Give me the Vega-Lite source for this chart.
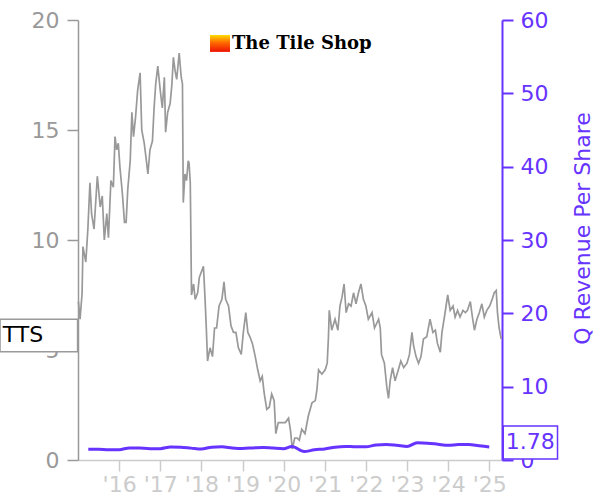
{
  "$schema": "https://vega.github.io/schema/vega-lite/v6.json",
  "width": 424,
  "height": 440,
  "autosize": "none",
  "padding": {"left": 78, "top": 20, "right": 98, "bottom": 40},
  "background": "white",
  "config": {"font": "DejaVu Sans", "view": {"stroke": null}},
  "datasets": {
    "price": [
      {"t": 2015.01, "v": 7.2}, {"t": 2015.05, "v": 6.4}, {"t": 2015.10, "v": 7.6}, {"t": 2015.12, "v": 9.7},
      {"t": 2015.19, "v": 9.0}, {"t": 2015.24, "v": 10.5}, {"t": 2015.29, "v": 12.6}, {"t": 2015.33, "v": 11.2},
      {"t": 2015.39, "v": 10.5}, {"t": 2015.47, "v": 12.9}, {"t": 2015.54, "v": 11.5}, {"t": 2015.59, "v": 12.0},
      {"t": 2015.64, "v": 10.0}, {"t": 2015.70, "v": 11.2}, {"t": 2015.74, "v": 10.1}, {"t": 2015.80, "v": 12.7},
      {"t": 2015.86, "v": 12.4}, {"t": 2015.90, "v": 14.7}, {"t": 2015.94, "v": 14.1}, {"t": 2015.98, "v": 14.4},
      {"t": 2016.02, "v": 13.3}, {"t": 2016.08, "v": 12.1}, {"t": 2016.13, "v": 10.8}, {"t": 2016.17, "v": 10.8},
      {"t": 2016.21, "v": 12.3}, {"t": 2016.27, "v": 13.6}, {"t": 2016.31, "v": 15.8}, {"t": 2016.35, "v": 14.7},
      {"t": 2016.40, "v": 15.6}, {"t": 2016.45, "v": 16.8}, {"t": 2016.51, "v": 17.6}, {"t": 2016.55, "v": 15.0},
      {"t": 2016.61, "v": 14.4}, {"t": 2016.65, "v": 13.8}, {"t": 2016.70, "v": 13.0}, {"t": 2016.75, "v": 14.1},
      {"t": 2016.81, "v": 14.5}, {"t": 2016.85, "v": 16.0}, {"t": 2016.89, "v": 17.1}, {"t": 2016.94, "v": 17.9},
      {"t": 2017.00, "v": 16.8}, {"t": 2017.05, "v": 16.0}, {"t": 2017.10, "v": 17.4}, {"t": 2017.13, "v": 14.9},
      {"t": 2017.18, "v": 15.8}, {"t": 2017.24, "v": 16.2}, {"t": 2017.28, "v": 17.0}, {"t": 2017.32, "v": 18.3},
      {"t": 2017.36, "v": 17.7}, {"t": 2017.40, "v": 17.3}, {"t": 2017.46, "v": 18.5}, {"t": 2017.51, "v": 17.4},
      {"t": 2017.54, "v": 17.1}, {"t": 2017.56, "v": 11.7}, {"t": 2017.60, "v": 13.0}, {"t": 2017.64, "v": 12.7},
      {"t": 2017.68, "v": 13.6}, {"t": 2017.70, "v": 13.5}, {"t": 2017.73, "v": 12.6}, {"t": 2017.74, "v": 11.0},
      {"t": 2017.76, "v": 7.5}, {"t": 2017.81, "v": 8.0}, {"t": 2017.85, "v": 7.3}, {"t": 2017.91, "v": 7.6},
      {"t": 2017.95, "v": 8.3}, {"t": 2017.99, "v": 8.5}, {"t": 2018.05, "v": 8.8}, {"t": 2018.09, "v": 7.3},
      {"t": 2018.12, "v": 6.0}, {"t": 2018.15, "v": 4.5}, {"t": 2018.21, "v": 5.1}, {"t": 2018.27, "v": 4.7},
      {"t": 2018.32, "v": 6.0}, {"t": 2018.37, "v": 6.0}, {"t": 2018.43, "v": 7.0}, {"t": 2018.50, "v": 7.3},
      {"t": 2018.55, "v": 8.1}, {"t": 2018.59, "v": 7.3}, {"t": 2018.66, "v": 7.0}, {"t": 2018.72, "v": 6.1},
      {"t": 2018.78, "v": 5.8}, {"t": 2018.84, "v": 5.8}, {"t": 2018.90, "v": 5.1}, {"t": 2018.97, "v": 4.8},
      {"t": 2019.02, "v": 5.8}, {"t": 2019.08, "v": 6.7}, {"t": 2019.13, "v": 5.8}, {"t": 2019.18, "v": 5.6},
      {"t": 2019.24, "v": 5.3}, {"t": 2019.31, "v": 4.7}, {"t": 2019.37, "v": 4.1}, {"t": 2019.43, "v": 3.6},
      {"t": 2019.48, "v": 3.8}, {"t": 2019.53, "v": 3.0}, {"t": 2019.59, "v": 2.3}, {"t": 2019.65, "v": 2.4},
      {"t": 2019.71, "v": 3.0}, {"t": 2019.77, "v": 2.7}, {"t": 2019.81, "v": 1.2}, {"t": 2019.87, "v": 1.7},
      {"t": 2019.96, "v": 1.7}, {"t": 2020.04, "v": 1.7}, {"t": 2020.12, "v": 1.9}, {"t": 2020.17, "v": 1.3},
      {"t": 2020.21, "v": 0.5}, {"t": 2020.27, "v": 1.0}, {"t": 2020.33, "v": 1.0}, {"t": 2020.38, "v": 0.9},
      {"t": 2020.44, "v": 1.4}, {"t": 2020.52, "v": 1.2}, {"t": 2020.60, "v": 2.0}, {"t": 2020.69, "v": 2.6},
      {"t": 2020.77, "v": 2.7}, {"t": 2020.81, "v": 3.2}, {"t": 2020.85, "v": 4.1}, {"t": 2020.93, "v": 3.9},
      {"t": 2021.01, "v": 4.1}, {"t": 2021.06, "v": 4.4}, {"t": 2021.09, "v": 5.6}, {"t": 2021.11, "v": 6.8},
      {"t": 2021.17, "v": 5.9}, {"t": 2021.25, "v": 6.4}, {"t": 2021.32, "v": 5.9}, {"t": 2021.37, "v": 7.0},
      {"t": 2021.42, "v": 7.4}, {"t": 2021.47, "v": 8.0}, {"t": 2021.52, "v": 6.7}, {"t": 2021.58, "v": 7.1},
      {"t": 2021.64, "v": 7.0}, {"t": 2021.70, "v": 7.6}, {"t": 2021.76, "v": 7.1}, {"t": 2021.82, "v": 7.6},
      {"t": 2021.88, "v": 8.0}, {"t": 2021.94, "v": 7.3}, {"t": 2022.00, "v": 7.0}, {"t": 2022.06, "v": 6.4},
      {"t": 2022.15, "v": 6.7}, {"t": 2022.21, "v": 6.0}, {"t": 2022.31, "v": 6.4}, {"t": 2022.35, "v": 6.0},
      {"t": 2022.38, "v": 4.8}, {"t": 2022.45, "v": 4.4}, {"t": 2022.51, "v": 3.3}, {"t": 2022.55, "v": 2.8},
      {"t": 2022.59, "v": 3.6}, {"t": 2022.65, "v": 4.2}, {"t": 2022.71, "v": 3.6}, {"t": 2022.79, "v": 4.1},
      {"t": 2022.85, "v": 4.5}, {"t": 2022.92, "v": 4.2}, {"t": 2023.00, "v": 4.4}, {"t": 2023.06, "v": 4.8},
      {"t": 2023.12, "v": 5.8}, {"t": 2023.16, "v": 5.2}, {"t": 2023.22, "v": 4.7}, {"t": 2023.28, "v": 4.4},
      {"t": 2023.34, "v": 4.7}, {"t": 2023.40, "v": 5.5}, {"t": 2023.48, "v": 5.6}, {"t": 2023.56, "v": 6.4},
      {"t": 2023.63, "v": 5.8}, {"t": 2023.69, "v": 5.9}, {"t": 2023.74, "v": 5.3}, {"t": 2023.81, "v": 4.9},
      {"t": 2023.85, "v": 5.8}, {"t": 2023.91, "v": 6.5}, {"t": 2023.95, "v": 7.0}, {"t": 2023.99, "v": 7.5},
      {"t": 2024.05, "v": 6.8}, {"t": 2024.12, "v": 7.0}, {"t": 2024.17, "v": 6.5}, {"t": 2024.23, "v": 6.8},
      {"t": 2024.29, "v": 6.5}, {"t": 2024.36, "v": 6.8}, {"t": 2024.42, "v": 6.7}, {"t": 2024.47, "v": 6.8},
      {"t": 2024.54, "v": 7.2}, {"t": 2024.59, "v": 6.5}, {"t": 2024.64, "v": 5.9}, {"t": 2024.70, "v": 6.4},
      {"t": 2024.76, "v": 6.7}, {"t": 2024.82, "v": 7.1}, {"t": 2024.88, "v": 6.5}, {"t": 2024.94, "v": 6.8},
      {"t": 2025.01, "v": 7.0}, {"t": 2025.07, "v": 7.3}, {"t": 2025.12, "v": 7.6}, {"t": 2025.17, "v": 7.7},
      {"t": 2025.20, "v": 6.7}, {"t": 2025.24, "v": 6.0}, {"t": 2025.29, "v": 5.5}
    ],
    "rev": [
      {"t": 2015.25, "v": 1.46}, {"t": 2015.5, "v": 1.45}, {"t": 2015.75, "v": 1.40}, {"t": 2016.0, "v": 1.40},
      {"t": 2016.25, "v": 1.65}, {"t": 2016.5, "v": 1.62}, {"t": 2016.75, "v": 1.55}, {"t": 2017.0, "v": 1.55},
      {"t": 2017.25, "v": 1.78}, {"t": 2017.5, "v": 1.75}, {"t": 2017.75, "v": 1.62}, {"t": 2018.0, "v": 1.50},
      {"t": 2018.25, "v": 1.75}, {"t": 2018.5, "v": 1.80}, {"t": 2018.75, "v": 1.65}, {"t": 2019.0, "v": 1.58},
      {"t": 2019.25, "v": 1.65}, {"t": 2019.5, "v": 1.72}, {"t": 2019.75, "v": 1.62}, {"t": 2020.0, "v": 1.55},
      {"t": 2020.2, "v": 1.85}, {"t": 2020.5, "v": 1.15}, {"t": 2020.75, "v": 1.40}, {"t": 2021.0, "v": 1.50},
      {"t": 2021.25, "v": 1.75}, {"t": 2021.5, "v": 1.85}, {"t": 2021.75, "v": 1.80}, {"t": 2022.0, "v": 1.80},
      {"t": 2022.25, "v": 2.05}, {"t": 2022.5, "v": 2.10}, {"t": 2022.75, "v": 2.00}, {"t": 2023.0, "v": 1.85},
      {"t": 2023.25, "v": 2.35}, {"t": 2023.5, "v": 2.30}, {"t": 2023.75, "v": 2.15}, {"t": 2024.0, "v": 2.00},
      {"t": 2024.25, "v": 2.10}, {"t": 2024.5, "v": 2.12}, {"t": 2024.75, "v": 1.95}, {"t": 2025.0, "v": 1.78}
    ]
  },
  "layer": [
    {
      "data": {"name": "price"},
      "mark": {"type": "line", "color": "#999999", "strokeWidth": 1.7},
      "encoding": {
        "x": {
          "field": "t", "type": "quantitative",
          "scale": {"domain": [2015, 2025.31], "nice": false, "zero": false},
          "axis": {
            "title": null, "grid": false,
            "values": [2016, 2017, 2018, 2019, 2020, 2021, 2022, 2023, 2024, 2025],
            "labelExpr": "\"'\" + slice(toString(datum.value), 2)",
            "labelColor": "#cccccc", "labelFontSize": 22, "labelPadding": 3,
            "domainColor": "#cccccc", "domainWidth": 1.5,
            "tickColor": "#cccccc", "tickSize": 11, "tickWidth": 1.5,
            "labelFlush": false, "labelOverlap": false, "labelSeparation": 0
          }
        },
        "y": {
          "field": "v", "type": "quantitative",
          "scale": {"domain": [0, 20], "nice": false, "zero": true},
          "axis": {
            "title": null, "grid": false, "values": [0, 5, 10, 15, 20],
            "labelColor": "#999999", "labelFontSize": 22, "labelPadding": 8,
            "domainColor": "#999999", "domainWidth": 1.5,
            "tickColor": "#999999", "tickSize": 11, "tickWidth": 1.5
          }
        }
      }
    },
    {
      "data": {"name": "rev"},
      "mark": {"type": "line", "color": "#6633ff", "strokeWidth": 3, "interpolate": "monotone"},
      "encoding": {
        "x": {"field": "t", "type": "quantitative", "scale": {"domain": [2015, 2025.31], "nice": false, "zero": false}},
        "y": {
          "field": "v", "type": "quantitative",
          "scale": {"domain": [0, 60], "nice": false, "zero": true},
          "axis": {
            "orient": "right", "grid": false, "values": [0, 10, 20, 30, 40, 50, 60],
            "title": "Q Revenue Per Share", "titleColor": "#6633ff", "titleFontSize": 22,
            "titleFontWeight": "normal", "titleAngle": 270, "titleX": 80, "titleY": 208,
            "titleAlign": "center", "titleBaseline": "middle",
            "labelColor": "#6633ff", "labelFontSize": 22, "labelPadding": 7,
            "domainColor": "#6633ff", "domainWidth": 2,
            "tickColor": "#6633ff", "tickSize": 11, "tickWidth": 2
          }
        }
      }
    },
    {
      "data": {"values": [{"name": "TTS"}]},
      "mark": {"type": "rect", "fill": "white", "stroke": "#999999", "strokeWidth": 1.5},
      "encoding": {
        "x": {"datum": 2013.104, "type": "quantitative", "scale": {"domain": [2015, 2025.31], "nice": false, "zero": false}},
        "x2": {"datum": 2014.99},
        "y": {"datum": 6.395, "type": "quantitative", "scale": {"domain": [0, 20], "nice": false}, "axis": null},
        "y2": {"datum": 4.92}
      }
    },
    {
      "data": {"values": [{"name": "TTS"}]},
      "mark": {"type": "text", "align": "left", "baseline": "middle", "fontSize": 22, "color": "black"},
      "encoding": {
        "text": {"field": "name"},
        "x": {"datum": 2013.17, "type": "quantitative", "scale": {"domain": [2015, 2025.31], "nice": false, "zero": false}},
        "y": {"datum": 5.66, "type": "quantitative", "scale": {"domain": [0, 20], "nice": false}, "axis": null}
      }
    },
    {
      "data": {"values": [{"last": "1.78"}]},
      "mark": {"type": "rect", "fill": "white", "stroke": "#6633ff", "strokeWidth": 1.5},
      "encoding": {
        "x": {"datum": 2025.34, "type": "quantitative", "scale": {"domain": [2015, 2025.31], "nice": false, "zero": false}},
        "x2": {"datum": 2026.66},
        "y": {"datum": 4.64, "type": "quantitative", "scale": {"domain": [0, 60], "nice": false}, "axis": null},
        "y2": {"datum": 0.136}
      }
    },
    {
      "data": {"values": [{"last": "1.78"}]},
      "mark": {"type": "text", "align": "left", "baseline": "middle", "fontSize": 22, "color": "#6633ff"},
      "encoding": {
        "text": {"field": "last"},
        "x": {"datum": 2025.40, "type": "quantitative", "scale": {"domain": [2015, 2025.31], "nice": false, "zero": false}},
        "y": {"datum": 2.39, "type": "quantitative", "scale": {"domain": [0, 60], "nice": false}, "axis": null}
      }
    },
    {
      "data": {"values": [{"brand": "The Tile Shop"}]},
      "mark": {
        "type": "rect",
        "fill": {"gradient": "linear", "x1": 0, "y1": 0, "x2": 0, "y2": 1,
          "stops": [{"offset": 0, "color": "#ffdd00"}, {"offset": 0.45, "color": "#ff6a00"}, {"offset": 1, "color": "#ee1100"}]}
      },
      "encoding": {
        "x": {"datum": 2018.209, "type": "quantitative", "scale": {"domain": [2015, 2025.31], "nice": false, "zero": false}},
        "x2": {"datum": 2018.696},
        "y": {"datum": 19.32, "type": "quantitative", "scale": {"domain": [0, 20], "nice": false}, "axis": null},
        "y2": {"datum": 18.55}
      }
    },
    {
      "data": {"values": [{"brand": "The Tile Shop"}]},
      "mark": {"type": "text", "align": "left", "baseline": "middle", "fontSize": 18, "font": "DejaVu Serif", "fontWeight": "bold", "color": "black"},
      "encoding": {
        "text": {"field": "brand"},
        "x": {"datum": 2018.744, "type": "quantitative", "scale": {"domain": [2015, 2025.31], "nice": false, "zero": false}},
        "y": {"datum": 18.91, "type": "quantitative", "scale": {"domain": [0, 20], "nice": false}, "axis": null}
      }
    }
  ],
  "resolve": {"scale": {"y": "independent"}}
}
